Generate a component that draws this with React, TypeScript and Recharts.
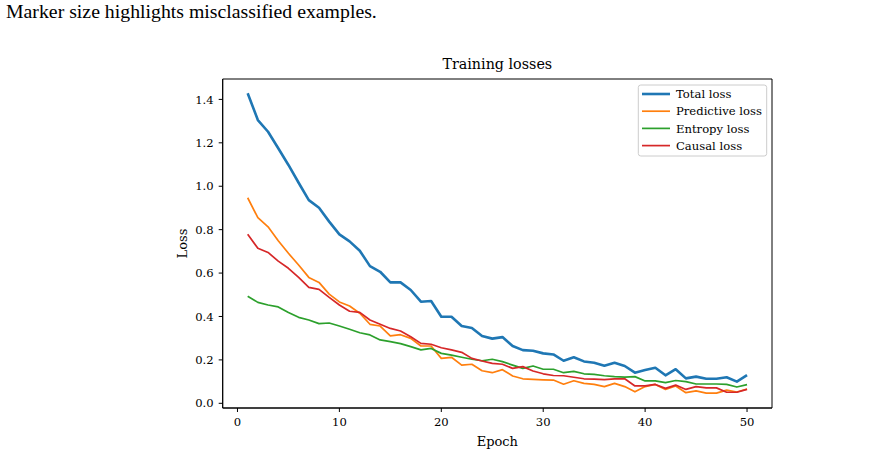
import React from 'react';
import { LineChart, Line, XAxis, YAxis, ReferenceArea } from 'recharts';

const epochs = [1, 2, 3, 4, 5, 6, 7, 8, 9, 10, 11, 12, 13, 14, 15, 16, 17, 18, 19, 20, 21, 22, 23, 24, 25, 26, 27, 28, 29, 30, 31, 32, 33, 34, 35, 36, 37, 38, 39, 40, 41, 42, 43, 44, 45, 46, 47, 48, 49, 50];

const totalLoss = [1.428, 1.305, 1.251, 1.175, 1.098, 1.016, 0.936, 0.901, 0.837, 0.778, 0.746, 0.703, 0.632, 0.606, 0.557, 0.557, 0.522, 0.468, 0.471, 0.399, 0.399, 0.356, 0.347, 0.310, 0.298, 0.305, 0.264, 0.245, 0.242, 0.230, 0.225, 0.196, 0.212, 0.193, 0.187, 0.173, 0.187, 0.172, 0.141, 0.153, 0.164, 0.129, 0.157, 0.115, 0.123, 0.113, 0.113, 0.120, 0.100, 0.130];

const predictiveLoss = [0.947, 0.855, 0.813, 0.749, 0.691, 0.637, 0.580, 0.557, 0.503, 0.467, 0.448, 0.415, 0.364, 0.356, 0.311, 0.316, 0.299, 0.264, 0.264, 0.207, 0.212, 0.176, 0.180, 0.150, 0.141, 0.155, 0.126, 0.113, 0.110, 0.108, 0.107, 0.088, 0.104, 0.092, 0.087, 0.077, 0.092, 0.077, 0.053, 0.077, 0.087, 0.064, 0.080, 0.049, 0.057, 0.047, 0.047, 0.061, 0.052, 0.066];

const entropyLoss = [0.493, 0.465, 0.453, 0.444, 0.418, 0.396, 0.384, 0.367, 0.370, 0.356, 0.341, 0.325, 0.315, 0.292, 0.284, 0.275, 0.261, 0.246, 0.253, 0.230, 0.222, 0.212, 0.203, 0.196, 0.203, 0.192, 0.176, 0.161, 0.172, 0.157, 0.157, 0.141, 0.147, 0.136, 0.133, 0.127, 0.123, 0.121, 0.123, 0.103, 0.103, 0.095, 0.105, 0.100, 0.089, 0.089, 0.089, 0.087, 0.075, 0.086];

const causalLoss = [0.779, 0.714, 0.695, 0.655, 0.622, 0.580, 0.534, 0.525, 0.488, 0.453, 0.424, 0.419, 0.384, 0.364, 0.345, 0.333, 0.307, 0.276, 0.272, 0.256, 0.246, 0.235, 0.207, 0.195, 0.184, 0.180, 0.161, 0.169, 0.149, 0.136, 0.128, 0.127, 0.120, 0.113, 0.111, 0.109, 0.113, 0.113, 0.080, 0.080, 0.087, 0.069, 0.084, 0.064, 0.077, 0.071, 0.071, 0.051, 0.051, 0.064];

const xTicks = [0, 10, 20, 30, 40, 50];
const yTicks = [0, 0.2, 0.4, 0.6, 0.8, 1.0, 1.2, 1.4];

const seriesNames = ['Total loss', 'Predictive loss', 'Entropy loss', 'Causal loss'];
const seriesKeys = ['total', 'predictive', 'entropy', 'causal'];
const seriesColors = ['#1f77b4', '#ff7f0e', '#2ca02c', '#d62728'];
const seriesWidths = [2.6, 1.7, 1.7, 1.7];

const captionText = 'Marker size highlights misclassified examples.';
const titleText = 'Training losses';
const xLabelText = 'Epoch';
const yLabelText = 'Loss';

const data = epochs.map((e, i) => ({
  epoch: e,
  total: totalLoss[i],
  predictive: predictiveLoss[i],
  entropy: entropyLoss[i],
  causal: causalLoss[i],
}));

const FONT = '"DejaVu Serif", serif';
const X_DOMAIN: [number, number] = [-1.45, 52.45];
const Y_DOMAIN: [number, number] = [-0.0216, 1.494];

export default function App() {
  return (
    <div style={{ position: 'absolute', left: 0, top: 0, width: 893, height: 455, background: '#fff' }}>
      <div
        style={{
          position: 'absolute',
          left: 6,
          top: 0,
          fontFamily: '"Liberation Serif", "Times New Roman", serif',
          fontSize: 19.8,
          lineHeight: '23px',
          color: '#000',
          whiteSpace: 'nowrap',
        }}
      >
        {captionText}
      </div>
      <LineChart
        width={893}
        height={455}
        data={data}
        margin={{ top: 79, right: 121, bottom: 17, left: 162.7 }}
        style={{ position: 'absolute', left: 0, top: 0 }}
      >
        <XAxis
          dataKey="epoch"
          type="number"
          domain={X_DOMAIN}
          ticks={xTicks}
          allowDataOverflow
          height={30}
          tickSize={4}
          tickMargin={6}
          axisLine={{ stroke: '#000', strokeWidth: 1 }}
          tickLine={{ stroke: '#000', strokeWidth: 1 }}
          tick={{ fill: '#000', fontSize: 11.6, fontFamily: FONT }}
          interval={0}
        />
        <YAxis
          type="number"
          domain={Y_DOMAIN}
          ticks={yTicks}
          allowDataOverflow
          width={60}
          tickSize={4}
          tickMargin={5}
          tickFormatter={(v: number) => v.toFixed(1)}
          axisLine={{ stroke: '#000', strokeWidth: 1 }}
          tickLine={{ stroke: '#000', strokeWidth: 1 }}
          tick={{ fill: '#000', fontSize: 11.6, fontFamily: FONT }}
          interval={0}
        />
        <ReferenceArea
          x1={X_DOMAIN[0]}
          x2={X_DOMAIN[1]}
          y1={Y_DOMAIN[0]}
          y2={Y_DOMAIN[1]}
          fill="none"
          stroke="#000"
          strokeWidth={1}
          ifOverflow="visible"
        />
        {seriesKeys.map((k, i) => (
          <Line
            key={k}
            dataKey={k}
            name={seriesNames[i]}
            type="linear"
            stroke={seriesColors[i]}
            strokeWidth={seriesWidths[i]}
            strokeLinejoin="round"
            dot={false}
            activeDot={false}
            isAnimationActive={false}
          />
        ))}
        <text x={497.3} y={68.6} textAnchor="middle" fontFamily={FONT} fontSize={14.3} fill="#000">
          {titleText}
        </text>
        <text x={497.3} y={446} textAnchor="middle" fontFamily={FONT} fontSize={13} fill="#000">
          {xLabelText}
        </text>
        <text
          x={187}
          y={243.5}
          textAnchor="middle"
          fontFamily={FONT}
          fontSize={13}
          fill="#000"
          transform="rotate(-90 187 243.5)"
        >
          {yLabelText}
        </text>
        <g>
          <rect x={638.3} y={85} width={128.4} height={71} rx={2.5} ry={2.5} fill="#fff" fillOpacity={0.8} stroke="#cccccc" strokeWidth={1} />
          {seriesNames.map((n, i) => (
            <g key={n}>
              <line
                x1={642}
                x2={670}
                y1={94 + i * 17.2}
                y2={94 + i * 17.2}
                stroke={seriesColors[i]}
                strokeWidth={seriesWidths[i]}
              />
              <text x={676} y={94 + i * 17.2} dy="0.36em" fontFamily={FONT} fontSize={11.6} fill="#000">
                {n}
              </text>
            </g>
          ))}
        </g>
      </LineChart>
    </div>
  );
}
